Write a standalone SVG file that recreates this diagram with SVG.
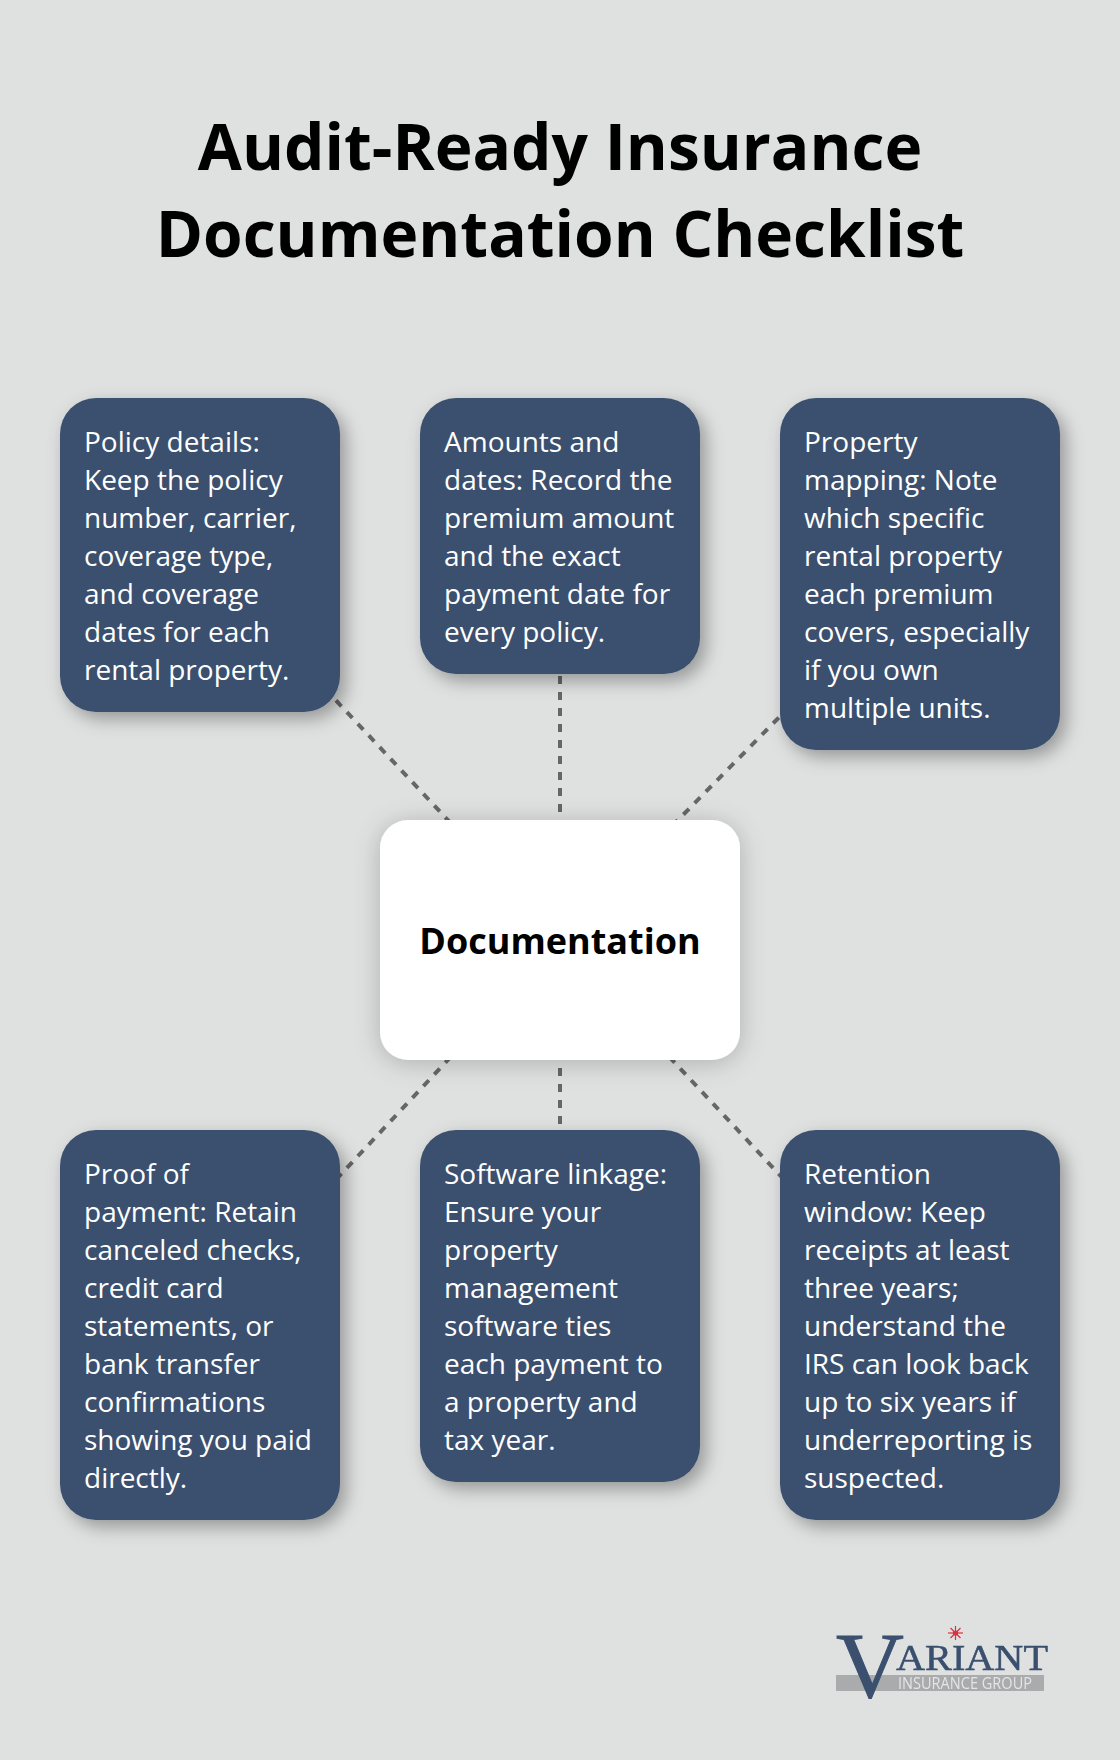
<svg xmlns="http://www.w3.org/2000/svg" width="1120" height="1760" viewBox="0 0 1120 1760">
<style>
text{font-family:"Open Sans","Liberation Sans",sans-serif}
.title{font-size:64px;font-weight:700;fill:#000;text-anchor:middle}
.card{fill:#3a506e;filter:url(#sh)}
.hub{fill:#fff;filter:url(#shc)}
.t{font-size:28px;fill:#fff}
.h{font-size:36px;font-weight:700;fill:#000;text-anchor:middle}
.c{stroke:#666;stroke-width:4;stroke-dasharray:8 8;fill:none}
.serif{font-family:"Liberation Serif",serif;fill:#3a506e}
</style>
<defs>
<filter id="sh" x="-25%" y="-25%" width="150%" height="150%"><feDropShadow dx="6" dy="7" stdDeviation="9" flood-color="#000" flood-opacity="0.33"/></filter>
<filter id="shc" x="-25%" y="-25%" width="150%" height="150%"><feDropShadow dx="0" dy="3" stdDeviation="13" flood-color="#000" flood-opacity="0.22"/></filter>
<filter id="soft" x="-5%" y="-5%" width="110%" height="110%"><feGaussianBlur stdDeviation="0.4"/></filter>
</defs>
<rect width="1120" height="1760" fill="#dfe1e0"/>
<g id="title">
<text class="title" x="560" y="170">Audit-Ready Insurance</text>
<text class="title" x="560" y="257">Documentation Checklist</text>
</g>
<g id="connectors">
<line class="c" x1="560" y1="940" x2="200" y2="555"/>
<line class="c" x1="560" y1="940" x2="560" y2="536"/>
<line class="c" x1="560" y1="940" x2="920" y2="574"/>
<line class="c" x1="560" y1="940" x2="200" y2="1325"/>
<line class="c" x1="560" y1="940" x2="560" y2="1306"/>
<line class="c" x1="560" y1="940" x2="920" y2="1325"/>
</g>
<g id="node-policy">
<rect class="card" x="60" y="398" width="280" height="314" rx="36"/>
<text class="t"><tspan x="84" y="452">Policy details:</tspan><tspan x="84" y="490">Keep the policy</tspan><tspan x="84" y="528">number, carrier,</tspan><tspan x="84" y="566">coverage type,</tspan><tspan x="84" y="604">and coverage</tspan><tspan x="84" y="642">dates for each</tspan><tspan x="84" y="680">rental property.</tspan></text>
</g>
<g id="node-amounts">
<rect class="card" x="420" y="398" width="280" height="276" rx="36"/>
<text class="t"><tspan x="444" y="452">Amounts and</tspan><tspan x="444" y="490">dates: Record the</tspan><tspan x="444" y="528">premium amount</tspan><tspan x="444" y="566">and the exact</tspan><tspan x="444" y="604">payment date for</tspan><tspan x="444" y="642">every policy.</tspan></text>
</g>
<g id="node-mapping">
<rect class="card" x="780" y="398" width="280" height="352" rx="36"/>
<text class="t"><tspan x="804" y="452">Property</tspan><tspan x="804" y="490">mapping: Note</tspan><tspan x="804" y="528">which specific</tspan><tspan x="804" y="566">rental property</tspan><tspan x="804" y="604">each premium</tspan><tspan x="804" y="642">covers, especially</tspan><tspan x="804" y="680">if you own</tspan><tspan x="804" y="718">multiple units.</tspan></text>
</g>
<g id="node-documentation">
<rect class="hub" x="380" y="820" width="360" height="240" rx="28"/>
<text class="h" x="560" y="954">Documentation</text>
</g>
<g id="node-proof">
<rect class="card" x="60" y="1130" width="280" height="390" rx="36"/>
<text class="t"><tspan x="84" y="1184">Proof of</tspan><tspan x="84" y="1222">payment: Retain</tspan><tspan x="84" y="1260">canceled checks,</tspan><tspan x="84" y="1298">credit card</tspan><tspan x="84" y="1336">statements, or</tspan><tspan x="84" y="1374">bank transfer</tspan><tspan x="84" y="1412">confirmations</tspan><tspan x="84" y="1450">showing you paid</tspan><tspan x="84" y="1488">directly.</tspan></text>
</g>
<g id="node-software">
<rect class="card" x="420" y="1130" width="280" height="352" rx="36"/>
<text class="t"><tspan x="444" y="1184">Software linkage:</tspan><tspan x="444" y="1222">Ensure your</tspan><tspan x="444" y="1260">property</tspan><tspan x="444" y="1298">management</tspan><tspan x="444" y="1336">software ties</tspan><tspan x="444" y="1374">each payment to</tspan><tspan x="444" y="1412">a property and</tspan><tspan x="444" y="1450">tax year.</tspan></text>
</g>
<g id="node-retention">
<rect class="card" x="780" y="1130" width="280" height="390" rx="36"/>
<text class="t"><tspan x="804" y="1184">Retention</tspan><tspan x="804" y="1222">window: Keep</tspan><tspan x="804" y="1260">receipts at least</tspan><tspan x="804" y="1298">three years;</tspan><tspan x="804" y="1336">understand the</tspan><tspan x="804" y="1374">IRS can look back</tspan><tspan x="804" y="1412">up to six years if</tspan><tspan x="804" y="1450">underreporting is</tspan><tspan x="804" y="1488">suspected.</tspan></text>
</g>
<g id="logo" filter="url(#soft)">
<rect x="836" y="1675" width="208" height="16" fill="#a9abac"/>
<text x="898" y="1689" font-size="15.5" fill="#e4e5e5" textLength="134" lengthAdjust="spacingAndGlyphs">INSURANCE GROUP</text>
<text class="serif" x="836" y="1697" font-size="94" stroke="#3a506e" stroke-width="1">V</text>
<text class="serif" x="896" y="1670" font-size="36" textLength="152" lengthAdjust="spacingAndGlyphs" stroke="#3a506e" stroke-width="0.5">ARIANT</text>
<g stroke="#d9323f" stroke-width="1.2">
<line x1="948" y1="1633" x2="963" y2="1633"/><line x1="955.5" y1="1626" x2="955.5" y2="1640"/><line x1="950.5" y1="1628" x2="960.5" y2="1638"/><line x1="960.5" y1="1628" x2="950.5" y2="1638"/>
</g>
<circle cx="955.5" cy="1633" r="2.6" fill="#d9323f"/>
</g>
</svg>
